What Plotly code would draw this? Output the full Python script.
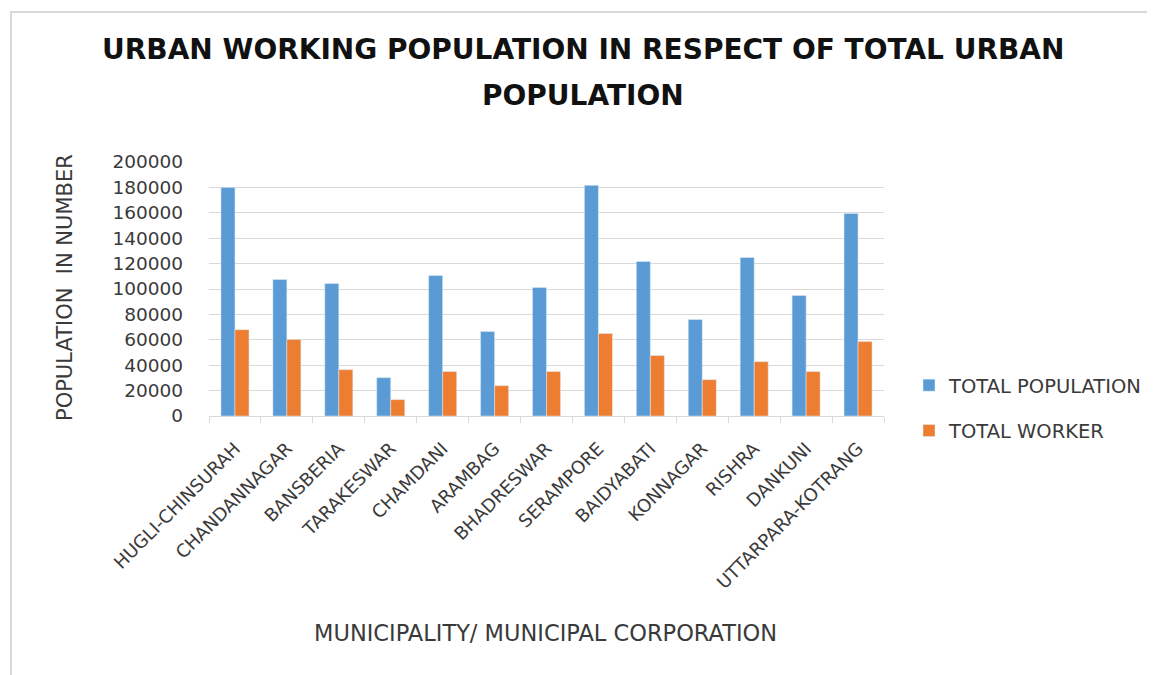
import plotly.graph_objects as go

categories = ["HUGLI-CHINSURAH", "CHANDANNAGAR", "BANSBERIA", "TARAKESWAR", "CHAMDANI",
              "ARAMBAG", "BHADRESWAR", "SERAMPORE", "BAIDYABATI", "KONNAGAR", "RISHRA",
              "DANKUNI", "UTTARPARA-KOTRANG"]
total_population = [180000, 107500, 104300, 30200, 110600, 66500, 101200, 181600,
                    121700, 76000, 124800, 94900, 159500]
total_worker = [68000, 60200, 36500, 12900, 35000, 23900, 35000, 64900,
                47600, 28600, 42800, 35000, 58600]

W, H = 1155, 675
OFF = 8  # page body margin
# plot area in screen pixels
PX0, PX1, PY0, PY1 = 209, 884, 162, 416
PW, PH = PX1 - PX0, PY1 - PY0
ML, MT = PX0 - OFF, PY0 - OFF
MR, MB = W - ML - PW, H - MT - PH


def xp(X):
    return (X - PX0) / PW


def yp(Y):
    return (PY1 - Y) / PH


FONT = "DejaVu Sans"
TXT = "#3a3a3a"

fig = go.Figure()
fig.add_trace(go.Bar(x=categories, y=total_population, name="TOTAL POPULATION",
                     marker_color="#5B9BD5", legendgroup="a"))
fig.add_trace(go.Bar(x=categories, y=total_worker, name="TOTAL WORKER",
                     marker_color="#ED7D31", legendgroup="b"))

fig.update_layout(
    width=W, height=H,
    margin=dict(l=ML, r=MR, t=MT, b=MB),
    paper_bgcolor="white", plot_bgcolor="white",
    barmode="group", bargap=0.46, bargroupgap=0,
    font=dict(family=FONT, color=TXT),
    legend=dict(x=xp(909), xanchor="left", y=yp(366), yanchor="top",
                font=dict(size=19.5, color=TXT), tracegroupgap=17,
                bgcolor="rgba(0,0,0,0)"),
    xaxis=dict(showgrid=False, showline=True, linecolor="#D9D9D9", linewidth=1,
               ticks="outside", tickson="boundaries", ticklen=6, tickcolor="#D9D9D9",
               tickangle=-45, tickfont=dict(size=18, color=TXT), ticklabelstandoff=14),
    yaxis=dict(range=[0, 200000], dtick=20000, showgrid=True, gridcolor="#D9D9D9",
               gridwidth=1, showline=False, zeroline=False, tickformat="d",
               tickfont=dict(size=18.5, color=TXT), ticks="", ticklabelstandoff=25),
    annotations=[
        dict(text="URBAN WORKING POPULATION IN RESPECT OF TOTAL URBAN", xref="paper", yref="paper",
             x=xp(583), y=yp(50), xanchor="center", yanchor="middle", showarrow=False,
             font=dict(family=FONT, size=28, color="#111111", weight="bold")),
        dict(text="POPULATION", xref="paper", yref="paper",
             x=xp(583), y=yp(95), xanchor="center", yanchor="middle", showarrow=False,
             font=dict(family=FONT, size=28, color="#111111", weight="bold")),
        dict(text="MUNICIPALITY/ MUNICIPAL CORPORATION", xref="paper", yref="paper",
             x=xp(545), y=yp(633), xanchor="center", yanchor="middle", showarrow=False,
             font=dict(size=22.5, color=TXT)),
        dict(text="POPULATION  IN NUMBER", xref="paper", yref="paper", textangle=-90,
             x=xp(65), y=yp(288), xanchor="center", yanchor="middle", showarrow=False,
             font=dict(size=21, color=TXT)),
    ],
    shapes=[dict(type="rect", xref="paper", yref="paper",
                 x0=xp(11), x1=xp(1175), y0=yp(12), y1=yp(700),
                 line=dict(color="#D9D9D9", width=2), fillcolor="rgba(0,0,0,0)", layer="below")],
)

fig.write_html("out.html")
